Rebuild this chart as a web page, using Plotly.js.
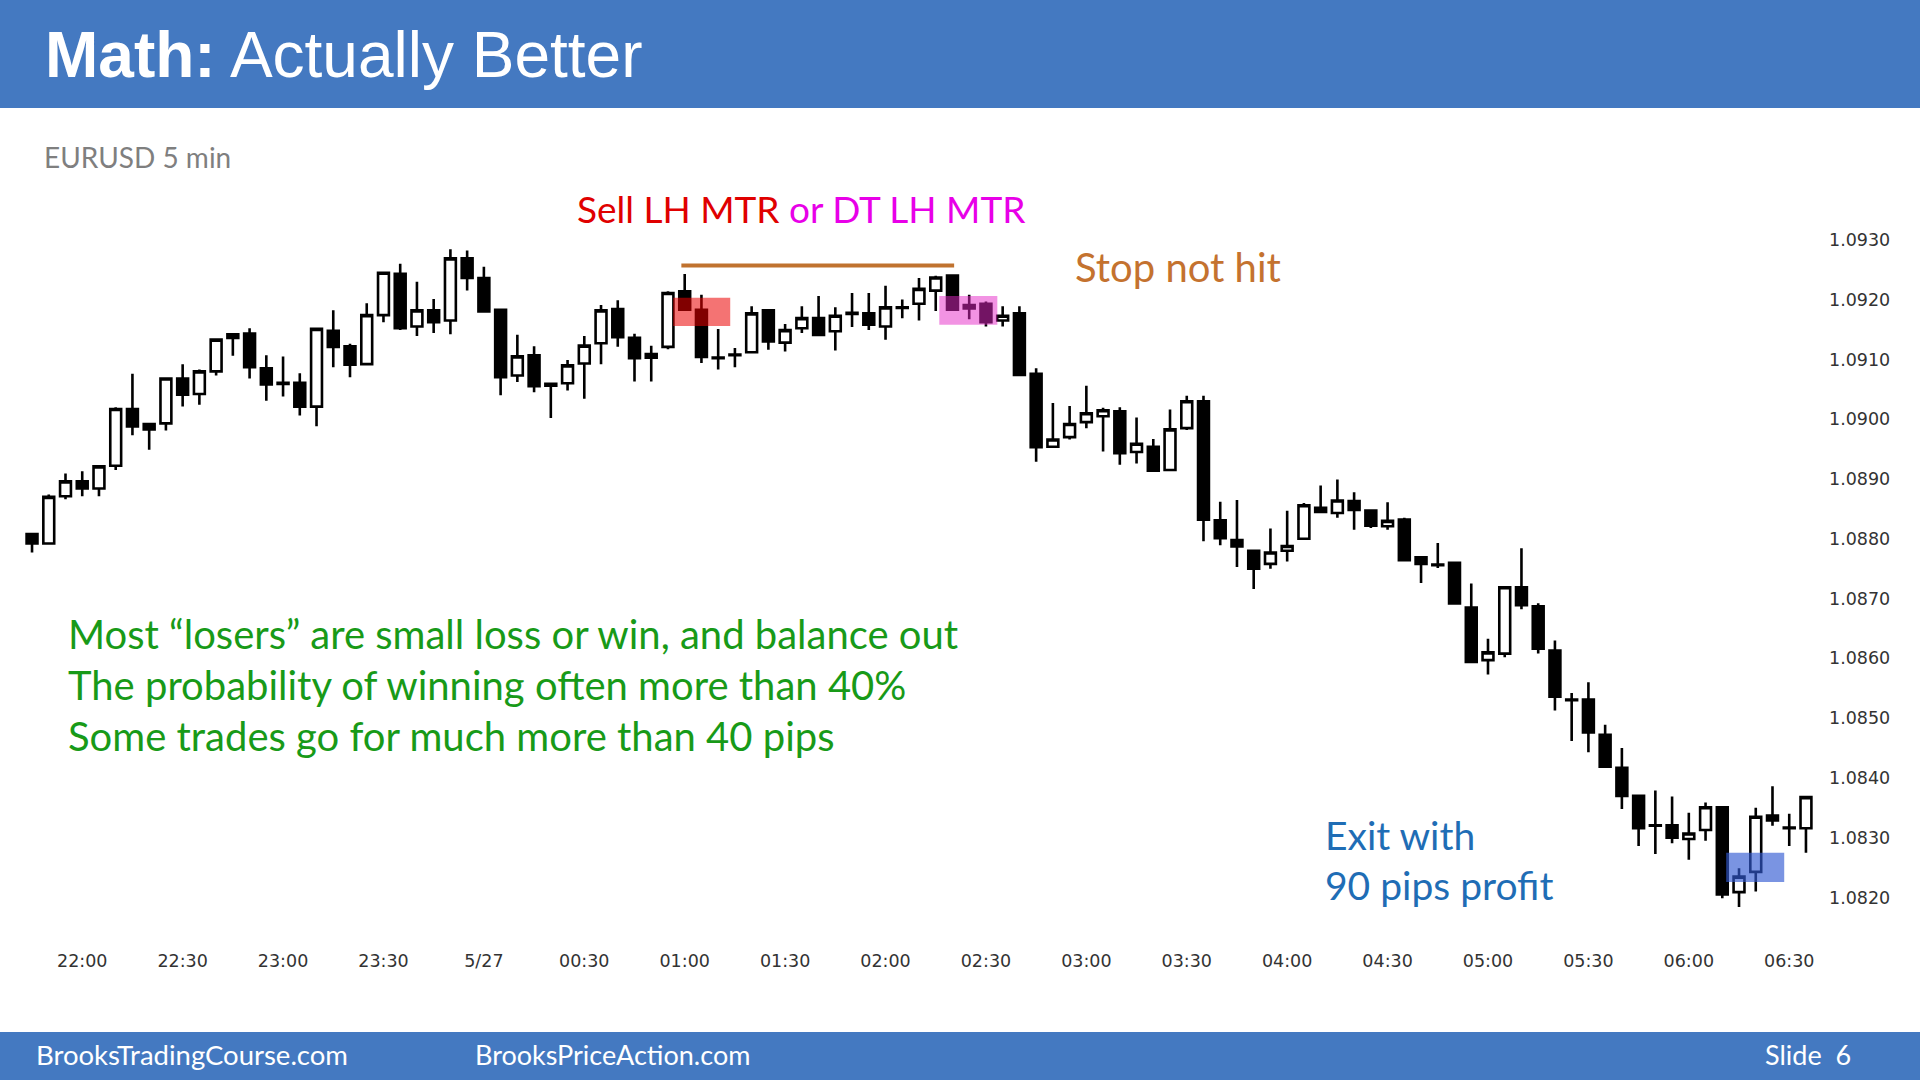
<!DOCTYPE html>
<html>
<head>
<meta charset="utf-8">
<script src="https://cdn.plot.ly/plotly-3.0.1.min.js"></script>
<style>
  html, body { margin: 0; padding: 0; background: #ffffff; }
  #chart { width: 1920px; height: 1080px; }
</style>
</head>
<body>
<div id="chart"></div>
<script>
// ---- Data (EURUSD 5 min, bars from 5/26 21:45 to 5/27 06:35) ----
const startTime = "2024-05-26T21:45:00Z";
const barMinutes = 5;

const openP = [
  1.08808,1.08792,1.08871,1.08896,1.08884,1.08922,1.09017,1.08992,1.08993,1.09068,
  1.09042,1.09080,1.09142,1.09143,1.09085,1.09061,1.09061,1.09021,1.09148,1.09122,
  1.09092,1.09174,1.09243,1.09155,1.09182,1.09165,1.09269,1.09236,1.09183,1.09073,
  1.09107,1.09059,1.09060,1.09093,1.09127,1.09184,1.09136,1.09103,1.09121,1.09214,
  1.09183,1.09103,1.09107,1.09112,1.09182,1.09128,1.09152,1.09169,1.09147,1.09176,
  1.09177,1.09155,1.09186,1.09193,1.09215,1.09240,1.09185,1.09193,1.09165,1.09177,
  1.09076,1.08954,1.08970,1.08995,1.09005,1.09013,1.08945,1.08954,1.08915,1.08985,
  1.09030,1.08831,1.08798,1.08780,1.08758,1.08780,1.08800,1.08852,1.08843,1.08863,
  1.08847,1.08821,1.08832,1.08769,1.08757,1.08760,1.08685,1.08597,1.08608,1.08719,
  1.08687,1.08613,1.08530,1.08531,1.08472,1.08417,1.08370,1.08321,1.08321,1.08298,
  1.08313,1.08351,1.08209,1.08243,1.08337,1.08316,1.08316
];
const highP = [
  1.08810,1.08874,1.08909,1.08913,1.08923,1.09020,1.09076,1.08993,1.09068,1.09092,
  1.09083,1.09134,1.09142,1.09152,1.09107,1.09105,1.09077,1.09151,1.09182,1.09126,
  1.09194,1.09247,1.09260,1.09230,1.09201,1.09284,1.09282,1.09255,1.09185,1.09141,
  1.09122,1.09060,1.09099,1.09139,1.09191,1.09199,1.09143,1.09123,1.09214,1.09243,
  1.09208,1.09151,1.09119,1.09189,1.09184,1.09159,1.09189,1.09206,1.09187,1.09211,
  1.09211,1.09223,1.09200,1.09236,1.09240,1.09240,1.09208,1.09197,1.09189,1.09189,
  1.09085,1.09027,1.09022,1.09056,1.09019,1.09020,1.09003,1.08967,1.09016,1.09039,
  1.09039,1.08862,1.08865,1.08781,1.08817,1.08847,1.08860,1.08889,1.08899,1.08878,
  1.08847,1.08861,1.08835,1.08771,1.08793,1.08761,1.08725,1.08633,1.08719,1.08784,
  1.08692,1.08630,1.08542,1.08560,1.08489,1.08450,1.08372,1.08379,1.08369,1.08342,
  1.08359,1.08351,1.08249,1.08350,1.08386,1.08340,1.08369
];
const lowP = [
  1.08777,1.08792,1.08866,1.08871,1.08871,1.08915,1.08973,1.08949,1.08981,1.09021,
  1.09024,1.09073,1.09106,1.09068,1.09031,1.09038,1.09006,1.08988,1.09087,1.09070,
  1.09092,1.09162,1.09149,1.09139,1.09144,1.09142,1.09215,1.09178,1.09040,1.09062,
  1.09045,1.09002,1.09048,1.09034,1.09092,1.09121,1.09063,1.09063,1.09117,1.09182,
  1.09094,1.09083,1.09087,1.09112,1.09116,1.09113,1.09144,1.09139,1.09115,1.09154,
  1.09149,1.09133,1.09169,1.09165,1.09181,1.09182,1.09167,1.09155,1.09155,1.09074,
  1.08929,1.08952,1.08966,1.08985,1.08946,1.08924,1.08926,1.08913,1.08915,1.08982,
  1.08796,1.08789,1.08753,1.08716,1.08750,1.08762,1.08800,1.08844,1.08835,1.08815,
  1.08818,1.08815,1.08762,1.08726,1.08751,1.08690,1.08592,1.08573,1.08602,1.08682,
  1.08608,1.08513,1.08462,1.08443,1.08417,1.08348,1.08286,1.08273,1.08291,1.08263,
  1.08295,1.08199,1.08184,1.08210,1.08320,1.08286,1.08275
];
const closeP = [
  1.08792,1.08870,1.08896,1.08884,1.08921,1.09017,1.08988,1.08983,1.09068,1.09041,
  1.09080,1.09133,1.09136,1.09087,1.09058,1.09059,1.09021,1.09151,1.09121,1.09091,
  1.09174,1.09245,1.09152,1.09182,1.09162,1.09269,1.09236,1.09180,1.09070,1.09105,
  1.09055,1.09056,1.09090,1.09123,1.09182,1.09137,1.09102,1.09109,1.09211,1.09183,
  1.09104,1.09102,1.09108,1.09177,1.09130,1.09149,1.09169,1.09141,1.09173,1.09178,
  1.09158,1.09187,1.09187,1.09218,1.09237,1.09183,1.09191,1.09162,1.09173,1.09074,
  1.08953,1.08966,1.08992,1.09010,1.09015,1.08943,1.08959,1.08914,1.08983,1.09030,
  1.08832,1.08801,1.08787,1.08750,1.08777,1.08788,1.08856,1.08845,1.08864,1.08848,
  1.08822,1.08830,1.08764,1.08758,1.08756,1.08692,1.08594,1.08610,1.08719,1.08689,
  1.08616,1.08536,1.08531,1.08476,1.08419,1.08370,1.08316,1.08320,1.08300,1.08307,
  1.08351,1.08205,1.08235,1.08335,1.08329,1.08317,1.08368
];

const tickTimes = [
  "2024-05-26 22:00","2024-05-26 22:30","2024-05-26 23:00","2024-05-26 23:30",
  "2024-05-27 00:00","2024-05-27 00:30","2024-05-27 01:00","2024-05-27 01:30",
  "2024-05-27 02:00","2024-05-27 02:30","2024-05-27 03:00","2024-05-27 03:30",
  "2024-05-27 04:00","2024-05-27 04:30","2024-05-27 05:00","2024-05-27 05:30",
  "2024-05-27 06:00","2024-05-27 06:30"
];
const tickLabels = [
  "22:00","22:30","23:00","23:30","5/27","00:30","01:00","01:30","02:00","02:30",
  "03:00","03:30","04:00","04:30","05:00","05:30","06:00","06:30"
];
const priceTicks = [1.0820,1.0830,1.0840,1.0850,1.0860,1.0870,1.0880,1.0890,1.0900,1.0910,1.0920,1.0930];
const priceLabels = ["1.0820","1.0830","1.0840","1.0850","1.0860","1.0870","1.0880","1.0890","1.0900","1.0910","1.0920","1.0930"];

// Annotation levels
const stopLine = { x0: "2024-05-27 00:59:00", x1: "2024-05-27 02:20:30", y: 1.09257 };
const sellZone1 = { x0: "2024-05-27 00:56:34", x1: "2024-05-27 01:13:36", y0: 1.09156, y1: 1.09203 };
const sellZone2 = { x0: "2024-05-27 02:16:04", x1: "2024-05-27 02:33:24", y0: 1.09158, y1: 1.09206 };
const exitZone  = { x0: "2024-05-27 06:11:10", x1: "2024-05-27 06:28:30", y0: 1.08226, y1: 1.08275 };

// ---- Bar times on a regular 5-minute grid ----
const t0 = Date.parse(startTime);
const times = openP.map((_, i) =>
  new Date(t0 + i * barMinutes * 60000).toISOString().replace("T", " ").slice(0, 16));

// ---- Layout geometry ----
const W = 1920, H = 1080;
const M = { l: 25, r: 105, t: 180, b: 140 };
const PW = W - M.l - M.r, PH = H - M.t - M.b;
const px = x => (x - M.l) / PW;
const py = y => (H - M.b - y) / PH;

const BLUE = "#4479C1";
const SLIDE_FONT = "Lato, 'Open Sans', sans-serif";
const TITLE_FONT = "'Liberation Sans', Arial, sans-serif";
const AXIS_FONT = "'DejaVu Sans', Verdana, sans-serif";

const trace = {
  type: "candlestick",
  x: times,
  open: openP, high: highP, low: lowP, close: closeP,
  increasing: { line: { color: "#000000", width: 2.6 }, fillcolor: "#ffffff" },
  decreasing: { line: { color: "#000000", width: 2.6 }, fillcolor: "#000000" },
  whiskerwidth: 0,
  hoverinfo: "skip",
  showlegend: false
};

function txt(text, x, y, size, color, xanchor, family) {
  return {
    text: text, xref: "paper", yref: "paper", x: px(x), y: py(y),
    xanchor: xanchor || "left", yanchor: "middle", showarrow: false,
    font: { family: family || SLIDE_FONT, size: size, color: color }
  };
}

const annotations = [
  txt("<b>Math:</b> Actually Better", 43, 55, 64, "#ffffff", "left", TITLE_FONT),
  txt("EURUSD 5 min", 42, 157, 28, "#7f7f7f"),
  txt('<span style="color:#E00000">Sell LH MTR</span> <span style="color:#E800E8">or DT LH MTR</span>',
      801, 208, 37, "#E00000", "center"),
  txt("Stop not hit", 1073, 267, 40, "#C4722F"),
  txt("Most \u201Closers\u201D are small loss or win, and balance out", 66, 634, 40, "#189A18"),
  txt("The probability of winning often more than 40%", 66, 685, 40, "#189A18"),
  txt("Some trades go for much more than 40 pips", 66, 736, 40, "#189A18"),
  txt("Exit with", 1323, 835, 39, "#1F6DB5"),
  txt("90 pips profit", 1323, 885, 39, "#1F6DB5"),
  txt("BrooksTradingCourse.com", 34, 1054, 27.5, "#ffffff"),
  txt("BrooksPriceAction.com", 473, 1054, 27, "#ffffff"),
  txt("Slide  6", 1853, 1054, 27, "#ffffff", "right")
];

const shapes = [
  { type: "rect", xref: "paper", yref: "paper", x0: px(0), x1: px(W), y0: py(0), y1: py(108),
    fillcolor: BLUE, line: { width: 0 }, layer: "below" },
  { type: "rect", xref: "paper", yref: "paper", x0: px(0), x1: px(W), y0: py(1032), y1: py(H),
    fillcolor: BLUE, line: { width: 0 }, layer: "below" },
  { type: "line", xref: "x", yref: "y", x0: stopLine.x0, x1: stopLine.x1, y0: stopLine.y, y1: stopLine.y,
    line: { color: "#C0722F", width: 4 }, layer: "above" },
  { type: "rect", xref: "x", yref: "y", x0: sellZone1.x0, x1: sellZone1.x1, y0: sellZone1.y0, y1: sellZone1.y1,
    fillcolor: "rgba(235,0,0,0.55)", line: { width: 0 }, layer: "above" },
  { type: "rect", xref: "x", yref: "y", x0: sellZone2.x0, x1: sellZone2.x1, y0: sellZone2.y0, y1: sellZone2.y1,
    fillcolor: "rgba(230,40,200,0.5)", line: { width: 0 }, layer: "above" },
  { type: "rect", xref: "x", yref: "y", x0: exitZone.x0, x1: exitZone.x1, y0: exitZone.y0, y1: exitZone.y1,
    fillcolor: "rgba(50,90,210,0.65)", line: { width: 0 }, layer: "above" }
];

const layout = {
  width: W, height: H,
  margin: M,
  paper_bgcolor: "#ffffff", plot_bgcolor: "#ffffff",
  showlegend: false,
  boxgap: 0.35, boxgroupgap: 0,
  xaxis: {
    type: "date",
    range: ["2024-05-26 21:42:54", "2024-05-27 06:37:42"],
    rangeslider: { visible: false },
    showgrid: false, zeroline: false, showline: false, ticks: "",
    tickmode: "array", tickvals: tickTimes, ticktext: tickLabels,
    tickfont: { family: AXIS_FONT, size: 17.5, color: "#333333" },
    ticklabelstandoff: 8,
    fixedrange: true
  },
  yaxis: {
    side: "right",
    range: [1.08129, 1.09400],
    tickmode: "array", tickvals: priceTicks, ticktext: priceLabels,
    showgrid: false, zeroline: false, showline: false, ticks: "",
    tickfont: { family: AXIS_FONT, size: 17.5, color: "#333333" },
    ticklabelstandoff: 13,
    fixedrange: true
  },
  annotations: annotations,
  shapes: shapes
};

Plotly.newPlot("chart", [trace], layout, { displayModeBar: false, staticPlot: true });
</script>
</body>
</html>
